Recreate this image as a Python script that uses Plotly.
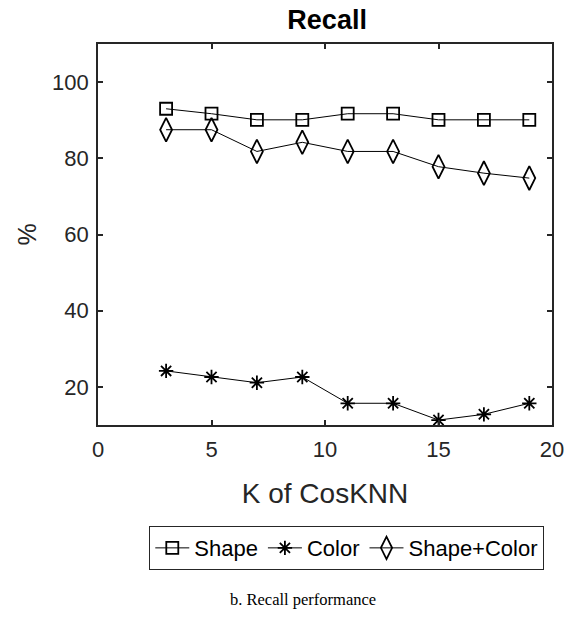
import plotly.graph_objects as go

k_values = [3, 5, 7, 9, 11, 13, 15, 17, 19]
shape_recall = [93.0, 91.7, 90.1, 90.1, 91.7, 91.7, 90.1, 90.1, 90.1]
color_recall = [24.2, 22.6, 21.1, 22.6, 15.7, 15.7, 11.3, 12.8, 15.7]
shape_color_recall = [87.5, 87.5, 81.8, 84.2, 81.8, 81.8, 77.8, 76.1, 74.8]

x_ticks = [0, 5, 10, 15, 20]
y_ticks = [20, 40, 60, 80, 100]

FONT = "Liberation Sans, Arial, sans-serif"
INK = "#262626"

fig = go.Figure()
fig.add_trace(go.Scatter(
    x=k_values, y=shape_recall, name="Shape", mode="lines+markers",
    line=dict(color="black", width=1),
    marker=dict(symbol="square-open", size=12, color="black", line=dict(width=1.8, color="black")),
))
fig.add_trace(go.Scatter(
    x=k_values, y=color_recall, name="Color", mode="lines+markers",
    line=dict(color="black", width=1),
    marker=dict(symbol="asterisk-open", size=12, color="black", line=dict(width=1.8, color="black")),
))
fig.add_trace(go.Scatter(
    x=k_values, y=shape_color_recall, name="Shape+Color", mode="lines+markers",
    line=dict(color="black", width=1),
    marker=dict(symbol="diamond-tall-open", size=17, color="black", line=dict(width=1.8, color="black")),
))

axis_common = dict(
    showline=True, linecolor=INK, linewidth=1.8, mirror="ticks",
    ticks="inside", ticklen=5, tickwidth=1.8, tickcolor=INK,
    showgrid=False, zeroline=False, automargin=False,
    tickfont=dict(family=FONT, size=22, color=INK),
)

fig.update_layout(
    width=566, height=618,
    paper_bgcolor="white", plot_bgcolor="white",
    margin=dict(l=98, r=14, t=44, b=193, autoexpand=False),
    title=dict(text="<b>Recall</b>", xref="container", yref="container",
               x=0.578, xanchor="center", y=0.968, yanchor="middle",
               font=dict(family=FONT, size=27, color="black")),
    xaxis=dict(range=[0, 20], tickvals=x_ticks, ticklabelstandoff=4,
               title=dict(text="K of CosKNN", font=dict(family=FONT, size=28, color=INK), standoff=22),
               **axis_common),
    yaxis=dict(range=[10, 110], tickvals=y_ticks, ticklabelstandoff=3,
               title=dict(text="%", font=dict(family=FONT, size=25, color=INK), standoff=8),
               **axis_common),
    legend=dict(orientation="h", x=0.548, xanchor="center", y=-0.323, yanchor="middle",
                bordercolor=INK, borderwidth=1, bgcolor="white",
                font=dict(family=FONT, size=22, color="black"),
                itemwidth=34, tracegroupgap=0),
    annotations=[dict(text="b. Recall performance", xref="paper", yref="paper",
                      x=0.452, y=-0.459, xanchor="center", yanchor="middle", showarrow=False,
                      font=dict(family="Liberation Serif, Times New Roman, serif", size=16.5, color="black"))],
)

fig.write_html(
    "out.html",
    config={"displayModeBar": False},
    post_script="document.body.style.margin='0';document.body.style.overflow='hidden';",
)
